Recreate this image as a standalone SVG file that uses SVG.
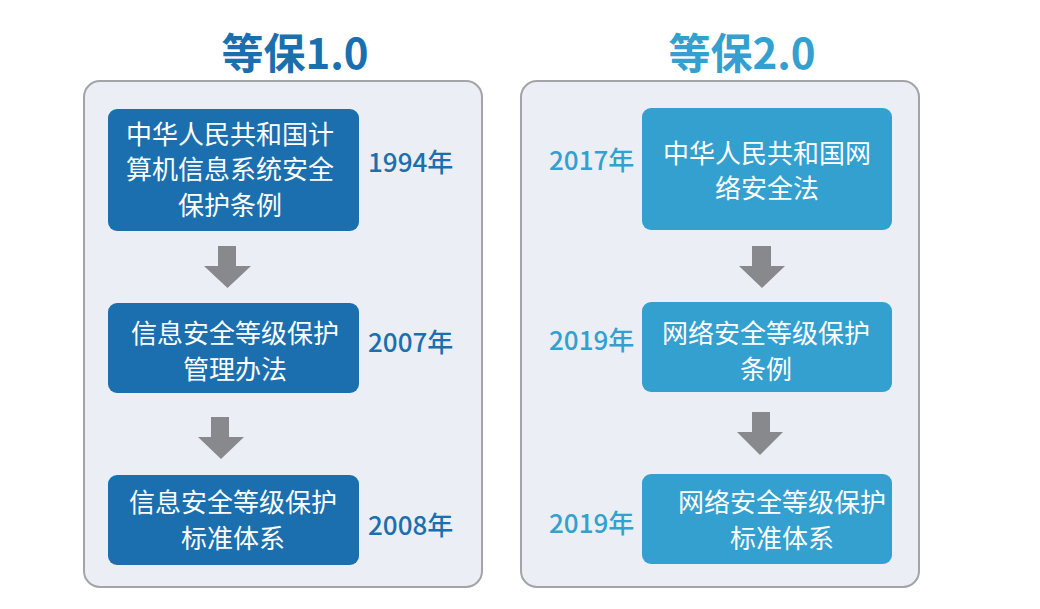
<svg xmlns="http://www.w3.org/2000/svg" width="1040" height="609" viewBox="0 0 1040 609">
<style>
text{font-family:"Noto Sans CJK SC","Noto Sans",sans-serif}
.panel{fill:#ebeef5;stroke:#a3a4a8;stroke-width:2}
.b1{fill:#1b6fae}
.b2{fill:#33a0d0}
.t{fill:#ffffff;font-size:26px;text-anchor:middle}
.y1{fill:#1b6fae;font-size:26px;font-weight:500}
.y2{fill:#33a0d0;font-size:26px;font-weight:500}
.h1{fill:#1b6fae;font-size:42px;font-weight:bold;text-anchor:middle}
.h2{fill:#33a0d0;font-size:42px;font-weight:bold;text-anchor:middle}
.arr{fill:#88898d}
</style>
<rect width="1040" height="609" fill="#ffffff"/>
<g id="panel-left">
<rect class="panel" x="84" y="81" width="398" height="506" rx="16"/>
<text class="h1" x="295" y="69">等保1.0</text>
</g>
<g id="panel-right">
<rect class="panel" x="521" y="81" width="398" height="506" rx="16"/>
<text class="h2" x="742" y="69">等保2.0</text>
</g>
<g id="n1">
<rect class="b1" x="108" y="109" width="251" height="122" rx="9"/>
<text class="t" x="230" y="144">中华人民共和国计</text>
<text class="t" x="230" y="179">算机信息系统安全</text>
<text class="t" x="230" y="215">保护条例</text>
<text class="y1" x="368" y="172">1994年</text>
</g>
<g id="n2">
<rect class="b1" x="108" y="303" width="251" height="90" rx="9"/>
<text class="t" x="235" y="343">信息安全等级保护</text>
<text class="t" x="235" y="379">管理办法</text>
<text class="y1" x="368" y="352">2007年</text>
</g>
<g id="n3">
<rect class="b1" x="108" y="475" width="251" height="90" rx="9"/>
<text class="t" x="233" y="512">信息安全等级保护</text>
<text class="t" x="233" y="548">标准体系</text>
<text class="y1" x="368" y="535">2008年</text>
</g>
<g id="n4">
<rect class="b2" x="642" y="108" width="250" height="122" rx="9"/>
<text class="t" x="767" y="163">中华人民共和国网</text>
<text class="t" x="767" y="198">络安全法</text>
<text class="y2" x="549" y="170">2017年</text>
</g>
<g id="n5">
<rect class="b2" x="642" y="302" width="250" height="90" rx="9"/>
<text class="t" x="766" y="343">网络安全等级保护</text>
<text class="t" x="766" y="379">条例</text>
<text class="y2" x="549" y="350">2019年</text>
</g>
<g id="n6">
<rect class="b2" x="642" y="474" width="250" height="90" rx="9"/>
<text class="t" x="782" y="512">网络安全等级保护</text>
<text class="t" x="782" y="548">标准体系</text>
<text class="y2" x="549" y="533">2019年</text>
</g>
<g id="connectors">
<path class="arr" d="M218,246 H236 V266 H251 L227.5,288 L204,266 H218 Z"/>
<path class="arr" d="M211,417 H229 V437 H244 L221,459 L198,437 H211 Z"/>
<path class="arr" d="M752,246 H771 V266 H785 L762,288 L739,266 H752 Z"/>
<path class="arr" d="M752,412 H770 V432 H783 L760,455 L737,432 H752 Z"/>
</g>
</svg>
